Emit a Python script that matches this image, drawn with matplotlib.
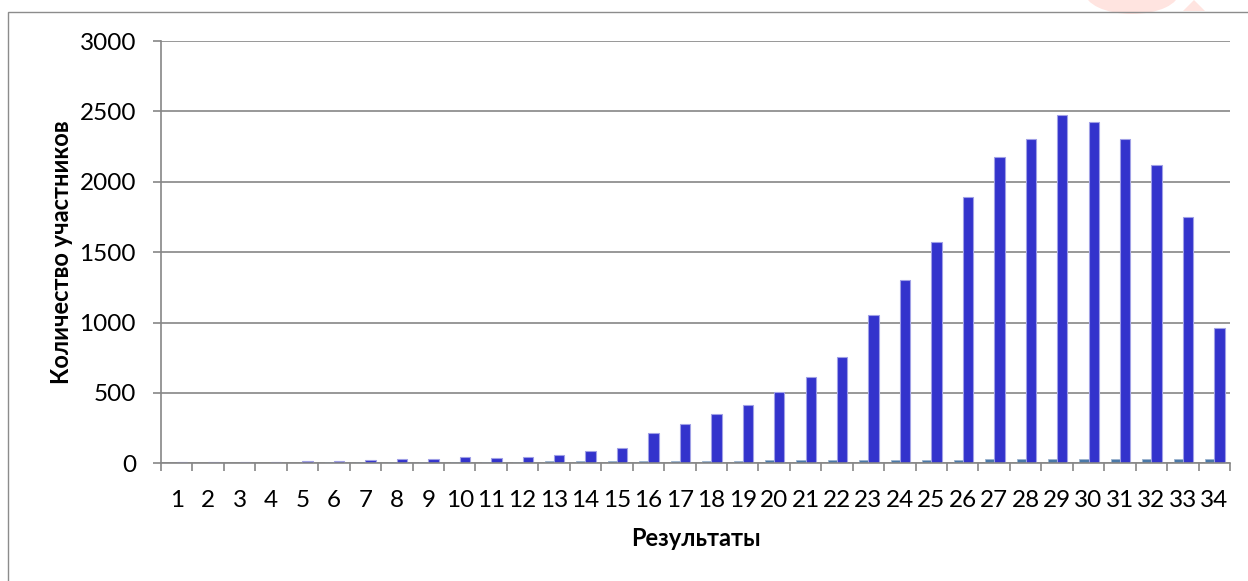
import matplotlib
matplotlib.use("Agg")
import matplotlib.pyplot as plt
from matplotlib.patches import Rectangle, Polygon, Circle
import numpy as np

categories = list(range(1, 35))
series_score = [1, 2, 3, 4, 5, 6, 7, 8, 9, 10, 11, 12, 13, 14, 15, 16, 17,
                18, 19, 20, 21, 22, 23, 24, 25, 26, 27, 28, 29, 30, 31, 32, 33, 34]
series_count = [8, 10, 8, 12, 17, 16, 24, 33, 33, 45, 40, 48, 62, 85, 107, 213,
                277, 350, 415, 505, 610, 757, 1050, 1305, 1570, 1893, 2173, 2303,
                2473, 2426, 2303, 2118, 1751, 960]
y_ticks = [0, 500, 1000, 1500, 2000, 2500, 3000]
x_label = "Результаты"
y_label = "Количество участников"

plt.rcParams['font.family'] = ['Lato', 'DejaVu Sans']

W, H = 1248, 581
fig = plt.figure(figsize=(W / 100, H / 100), dpi=100)
ax = fig.add_axes([161 / W, 1 - 463.3 / H, (1230 - 161) / W, (463.3 - 41) / H])

x = np.array(categories, dtype=float)
ax.bar(x - 0.29, series_score, width=0.29, align='edge', color='#4A78A8',
       edgecolor='#9DB4CF', linewidth=0.6, zorder=3)
ax.bar(x, series_count, width=0.33, align='edge', color='#3333CC',
       edgecolor='#A0A0E6', linewidth=0.8, zorder=3)

ax.set_xlim(0.5, 34.5)
ax.set_ylim(0, 3000)
ax.set_yticks(y_ticks)
ax.set_yticklabels([str(v) for v in y_ticks])
ax.set_xticks(categories)
ax.set_xticklabels([str(c) for c in categories])
ax.set_xticks(np.arange(0.5, 35, 1), minor=True)

grid_c = '#868686'
ax.yaxis.grid(True, color=grid_c, linewidth=1.2, zorder=0)
ax.set_axisbelow(True)
for s in ['top', 'right']:
    ax.spines[s].set_visible(False)
for s in ['left', 'bottom']:
    ax.spines[s].set_color(grid_c)
    ax.spines[s].set_linewidth(1.2)
    ax.spines[s].set_zorder(4)

ax.tick_params(axis='x', which='major', length=0, pad=19, labelsize=17.5, colors='black')
ax.tick_params(axis='x', which='minor', length=6, width=1.2, color=grid_c)
ax.tick_params(axis='y', which='major', length=6, width=1.2, color=grid_c,
               pad=12, labelsize=17.5, labelcolor='black')

ax.set_xlabel(x_label, fontsize=17, fontweight='bold', labelpad=12)
ax.set_ylabel(y_label, fontsize=17, fontweight='bold', labelpad=5)

# outer chart border
fig.add_artist(Rectangle((8 / W, -0.2), 1.5, 1.2 - 11.7 / H,
                         transform=fig.transFigure, fill=False,
                         edgecolor='#8C8C8C', linewidth=1.0, zorder=0))

# faint watermark shapes at the top right
fig.add_artist(Circle((1132 / W, 1 - (-8) / H), 22 / H, transform=fig.transFigure,
                      facecolor='#FFE4E0', edgecolor='none', zorder=-1))
fig.add_artist(Polygon([[1183 / W, 1 - 11 / H], [1194 / W, 1.0], [1205 / W, 1 - 11 / H]],
                       closed=True, transform=fig.transFigure,
                       facecolor='#FFE4E0', edgecolor='none', zorder=-1))

fig.savefig("out.png", dpi=100)
